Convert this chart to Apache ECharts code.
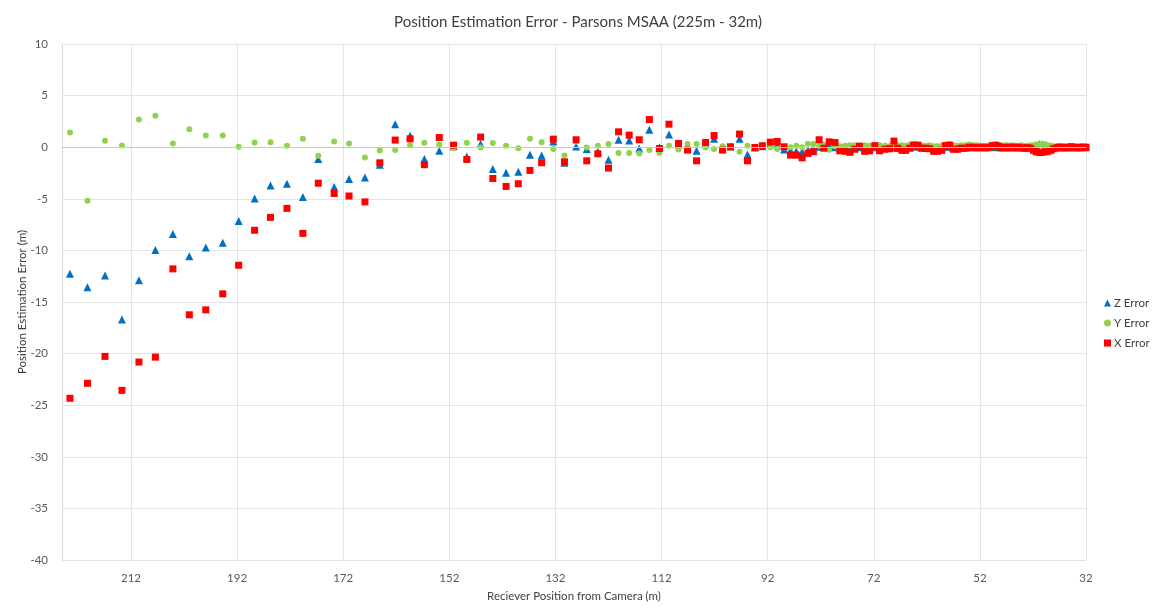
<!DOCTYPE html>
<html lang="en">
<head>
  <meta charset="UTF-8">
  <title>Position Estimation Error - Parsons MSAA</title>
  <script src="https://cdn.jsdelivr.net/npm/echarts@6/dist/echarts.min.js"></script>
  <style>
    html, body { margin: 0; padding: 0; background: #fff; }
    #chart { width: 1156px; height: 607px; }
  </style>
</head>
<body>
<div id="chart"></div>
<script type="text/javascript">
// receiver position from camera (m)
var distances = [
  223.5, 220.2, 216.9, 213.7, 210.5, 207.4, 204.1, 201.0, 197.9, 194.7,
  191.7, 188.7, 185.7, 182.6, 179.6, 176.7, 173.7, 170.9, 167.9, 165.1,
  162.2, 159.4, 156.7, 153.9, 151.2, 148.7, 146.1, 143.8, 141.3, 139.0,
  136.8, 134.6, 132.4, 130.3, 128.1, 126.1, 124.0, 122.0, 120.1, 118.1,
  116.2, 114.3, 112.4, 110.6, 108.8, 107.1, 105.4, 103.7, 102.1, 100.5,
  99.0, 97.3, 95.8, 94.4, 93.0, 91.5, 90.2, 88.9, 87.7, 86.6,
  85.5, 84.4,
  83.4, 82.3, 81.4, 80.4, 79.3, 78.4, 77.4, 76.5, 75.6, 74.7, 73.7, 72.8, 71.8, 70.9, 69.9, 69.0,
  68.2, 67.5, 66.7, 66.0, 65.2, 64.5, 63.7, 63.0, 62.2, 61.5, 60.7, 60.0, 59.2, 58.5, 57.7, 57.0,
  56.2, 55.5, 54.7, 54.0, 53.2, 52.5, 51.7, 51.0, 50.2,
  49.6, 49.0, 48.5, 48.0, 47.4, 46.9, 46.3, 45.8, 45.2, 44.7, 44.1, 43.6, 43.0, 42.5, 41.9, 41.4,
  40.8, 40.3, 39.7, 39.2, 38.6, 38.1, 37.5, 37.0, 36.4, 35.9, 35.3, 34.8, 34.2, 33.7, 33.1, 32.6, 32.0
];

var zError = [
  -12.27, -13.57, -12.44, -16.69, -12.89, -9.95, -8.41, -10.57, -9.73, -9.25,
  -7.15, -4.96, -3.70, -3.54, -4.83, -1.15, -3.86, -3.09, -2.93, -1.70,
  2.23, 1.10, -1.15, -0.35, 0.10, -0.90, 0.30, -2.12, -2.48, -2.38,
  -0.74, -0.80, 0.55, -1.50, 0.07, -0.18, -0.44, -1.22, 0.72, 0.65,
  -0.13, 1.68, 0.00, 1.23, 0.26, -0.09, -0.35, 0.30, 0.81, -0.10,
  0.07, 0.81, -0.70, -0.03, 0.10, 0.30, 0.26, -0.22, -0.32, -0.40,
  -0.45, -0.30,
  -0.10, 0.04, 0.20, 0.15, 0.00, -0.10, -0.20, -0.30, 0.00, 0.00, -0.20, -0.10, 0.00, -0.10, -0.05, 0.00,
  0.00, -0.05, -0.10, -0.10, 0.00, 0.10, 0.05, 0.00, -0.05, -0.05, -0.20, -0.20, -0.10, 0.05, 0.05, -0.05,
  -0.05, 0.00, 0.00, 0.00, 0.00, 0.00, 0.00, 0.00, 0.00,
  0.05, 0.05, 0.00, 0.00, 0.00, 0.00, 0.00, 0.00, 0.00, 0.00, 0.00, 0.00, 0.00, 0.00, 0.10, 0.20,
  0.30, 0.30, 0.25, 0.10, 0.00, 0.00, 0.00, 0.00, 0.00, 0.00, 0.00, 0.00, 0.00, 0.00, 0.00, 0.00, 0.00
];

var yError = [
  1.42, -5.20, 0.62, 0.17, 2.68, 3.04, 0.36, 1.75, 1.13, 1.13,
  0.04, 0.46, 0.49, 0.14, 0.81, -0.83, 0.55, 0.36, -1.00, -0.32,
  -0.28, 0.20, 0.43, 0.26, -0.09, 0.43, -0.03, 0.40, 0.14, -0.09,
  0.81, 0.49, -0.18, -0.80, 0.55, -0.03, 0.14, 0.30, -0.57, -0.57,
  -0.60, -0.28, -0.54, 0.14, -0.22, 0.30, 0.30, -0.03, -0.18, 0.10,
  -0.09, -0.44, 0.14, -0.09, 0.20, 0.00, -0.18, 0.00, 0.00, 0.14,
  0.00, 0.33,
  0.30, 0.15, 0.20, -0.25, 0.10, 0.10, 0.15, 0.20, 0.20, 0.15, 0.20, 0.15, 0.20, 0.20, 0.15, 0.10,
  0.15, 0.20, 0.20, 0.15, 0.25, 0.30, 0.25, 0.20, 0.15, 0.20, 0.10, 0.10, 0.15, 0.25, 0.30, 0.20,
  0.15, 0.20, 0.20, 0.25, 0.20, 0.20, 0.15, 0.15, 0.20,
  0.20, 0.25, 0.20, 0.15, 0.20, 0.20, 0.15, 0.20, 0.15, 0.15, 0.20, 0.15, 0.15, 0.20, 0.20, 0.25,
  0.25, 0.30, 0.25, 0.20, 0.15, 0.10, 0.10, 0.10, 0.10, 0.05, 0.05, 0.05, 0.05, 0.05, 0.05, 0.05, 0.05
];

var xError = [
  -24.33, -22.88, -20.27, -23.56, -20.82, -20.34, -11.79, -16.24, -15.76, -14.21,
  -11.44, -8.05, -6.80, -5.93, -8.35, -3.49, -4.48, -4.73, -5.30, -1.51,
  0.69, 0.81, -1.70, 0.94, 0.20, -1.19, 0.98, -3.03, -3.80, -3.54,
  -2.25, -1.51, 0.78, -1.42, 0.72, -1.32, -0.64, -2.02, 1.49, 1.17,
  0.72, 2.68, -0.13, 2.23, 0.36, -0.28, -1.32, 0.46, 1.13, -0.28,
  0.04, 1.27, -1.32, -0.03, 0.14, 0.49, 0.55, 0.04, -0.77, -0.77,
  -1.03, -0.60,
  -0.44, 0.72, -0.10, 0.52, 0.45, -0.35, -0.40, -0.50, -0.20, 0.10, -0.40, -0.35, 0.15, -0.35, -0.20, -0.15,
  0.59, -0.10, -0.30, -0.30, -0.10, 0.20, 0.20, -0.10, -0.10, -0.15, -0.40, -0.40, -0.30, 0.15, 0.20, -0.20,
  -0.20, -0.10, -0.10, 0.00, 0.00, -0.05, 0.00, -0.05, 0.00,
  0.15, 0.20, 0.10, -0.05, 0.00, -0.05, 0.00, 0.00, -0.05, 0.00, -0.05, -0.10, -0.05, -0.10, -0.30, -0.45,
  -0.50, -0.50, -0.45, -0.40, -0.30, -0.15, -0.05, 0.00, 0.00, -0.05, 0.00, 0.05, 0.00, -0.05, 0.00, 0.00, 0.00
];

var seriesNames = ['Z Error', 'Y Error', 'X Error'];

function pairs(values) {
  return values.map(function (v, i) { return [distances[i], v]; });
}

var chart = echarts.init(document.getElementById('chart'));

var font = 'Lato, "Liberation Sans", sans-serif';

var option = {
  animation: false,
  backgroundColor: '#ffffff',
  textStyle: { fontFamily: font },
  title: {
    text: 'Position Estimation Error - Parsons MSAA (225m - 32m)',
    left: 'center',
    top: 10,
    textStyle: { fontFamily: font, fontSize: 15, fontWeight: 'normal', color: '#404040' }
  },
  legend: {
    orient: 'vertical',
    left: 1099,
    top: 292,
    itemWidth: 7,
    itemHeight: 7,
    itemGap: 8,
    data: seriesNames,
    textStyle: { fontFamily: font, fontSize: 11.5, color: '#404040', lineHeight: 12, padding: [0, 0, 0, -2] }
  },
  grid: { left: 62, right: 70, top: 44, bottom: 46 },
  xAxis: {
    type: 'value',
    inverse: true,
    min: 32,
    max: 225,
    interval: 20,
    name: 'Reciever Position from Camera (m)',
    nameLocation: 'middle',
    nameGap: 30,
    nameTextStyle: { fontFamily: font, fontSize: 11.5, color: '#404040' },
    axisLine: { show: true, lineStyle: { color: '#d9d9d9' } },
    axisTick: { show: false },
    axisLabel: { fontFamily: font, fontSize: 11.5, color: '#595959', margin: 12, showMaxLabel: false },
    splitLine: { show: true, lineStyle: { color: '#e3e3e3' } }
  },
  yAxis: {
    type: 'value',
    min: -40,
    max: 10,
    interval: 5,
    name: 'Position Estimation Error (m)',
    nameLocation: 'middle',
    nameGap: 34,
    nameMoveOverlap: false,
    nameTextStyle: { fontFamily: font, fontSize: 11.5, color: '#404040' },
    axisLine: { show: true, lineStyle: { color: '#d9d9d9' } },
    axisTick: { show: false },
    axisLabel: { fontFamily: font, fontSize: 11.5, color: '#595959', margin: 14 },
    splitLine: { show: true, lineStyle: { color: '#e3e3e3' } }
  },
  series: [
    {
      name: 'Z Error',
      type: 'scatter',
      symbol: 'triangle',
      symbolSize: 8,
      itemStyle: { color: '#0070C0', opacity: 1 },
      data: pairs(zError),
      markLine: {
        silent: true,
        symbol: 'none',
        label: { show: false },
        lineStyle: { color: '#c8c8c8', type: 'solid', width: 1 },
        data: [{ yAxis: 0 }]
      },
      z: 2
    },
    {
      name: 'Y Error',
      type: 'scatter',
      symbol: 'circle',
      symbolSize: 6,
      itemStyle: { color: '#92D050', opacity: 1 },
      data: pairs(yError),
      z: 3
    },
    {
      name: 'X Error',
      type: 'scatter',
      symbol: 'rect',
      symbolSize: 7,
      itemStyle: { color: '#FF0000', opacity: 1 },
      data: pairs(xError),
      z: 4
    }
  ]
};

chart.setOption(option);
</script>
</body>
</html>
